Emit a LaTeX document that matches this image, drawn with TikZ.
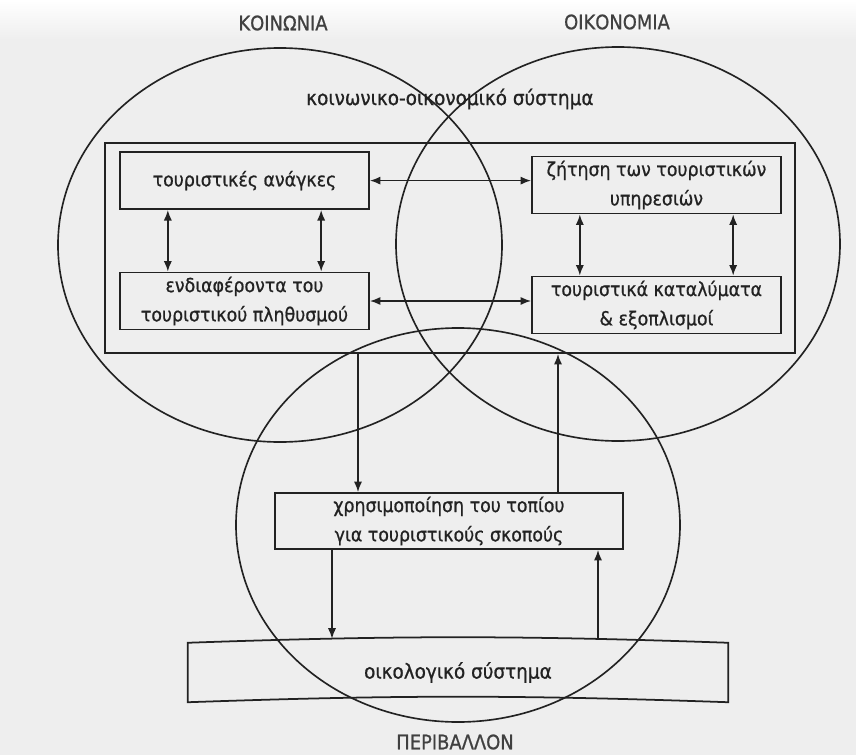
\documentclass[tikz,border=0pt]{standalone}
\usepackage{fontspec}
\setmainfont{DejaVu Sans Condensed}[FakeBold=0.8]
\usetikzlibrary{shapes.geometric, arrows.meta}
\definecolor{paper}{HTML}{EEEEEE}
\definecolor{ink}{HTML}{222222}
\tikzset{
  sphere/.style = {ellipse, draw=ink, line width=1.4pt, inner sep=0pt, minimum width=13.32cm, minimum height=11.82cm},
  sysname/.style = {text=black!75, font=\fontsize{17}{20}\selectfont},
  subname/.style = {text=ink, font=\fontsize{17.5}{22}\selectfont},
  bigframe/.style = {rectangle, draw=ink, line width=1.5pt, minimum width=20.7cm, minimum height=6.3cm},
  sysbox/.style = {rectangle, draw=ink, line width=1.5pt, align=center, inner sep=0pt, text=ink, font=\fontsize{16.5}{25}\selectfont, minimum width=7.47cm, minimum height=1.71cm},
  widebox/.style = {sysbox, minimum width=10.44cm, minimum height=1.68cm},
  dual/.style = {{Latex[length=9pt, width=7pt]}-{Latex[length=9pt, width=7pt]}, draw=ink, line width=1.4pt},
  flow/.style = {-{Latex[length=9pt, width=7pt]}, draw=ink, line width=1.4pt}
}

\begin{document}
\begin{tikzpicture}[x=0.03cm, y=-0.03cm]
    % page
    \fill[paper] (0,0) rectangle (856,755);
    \shade[top color=white, bottom color=paper] (0,0) rectangle (856,40);
    \useasboundingbox (0,0) rectangle (856,755);

    % the three systems
    \node[sphere] (soc) at (280,245) {};
    \node[sphere] (econ) at (618,244) {};
    \node[sphere] (env) at (458,525) {};
    \node[sysname] (socname) at (283,23) {ΚΟΙΝΩΝΙΑ};
    \node[sysname] (econname) at (617,22) {ΟΙΚΟΝΟΜΙΑ};
    \node[sysname] (envname) at (455,742) {ΠΕΡΙΒΑΛΛΟΝ};
    \node[subname] (socecon) at (450,99) {κοινωνικο-οικονομικό σύστημα};

    % socio-economic system
    \node[bigframe] (frame) at (450,248) {};
    \node[sysbox] (needs) at (244.5,180.6) {τουριστικές ανάγκες};
    \node[sysbox] (interest) at (244.5,301) {ενδιαφέροντα του\\τουριστικού πληθυσμού};
    \node[sysbox] (demand) at (656.5,185) {ζήτηση των τουριστικών\\υπηρεσιών};
    \node[sysbox] (lodging) at (656.5,305) {τουριστικά καταλύματα\\\& εξοπλισμοί};

    \draw[dual] (needs.east) -- (needs.east -| demand.west);
    \draw[dual] (interest.east) -- (interest.east -| lodging.west);
    \foreach \top/\bot in {needs/interest, demand/lodging}
      \foreach \s in {-2.3cm, 2.3cm}
        \draw[dual] ([xshift=\s]\top.south) -- ([xshift=\s]\bot.north);

    % landscape and ecosystem
    \node[widebox] (landuse) at (449,521) {χρησιμοποίηση του τοπίου\\για τουριστικούς σκοπούς};
    \node[subname, minimum width=16.2cm, minimum height=1.77cm] (ecosys) at (458,672.5) {οικολογικό σύστημα};
    \draw[ink, line width=1.5pt] (ecosys.north west) to[bend left=2] (ecosys.north east)
      -- (ecosys.south east) to[bend right=2] (ecosys.south west) -- cycle;

    \coordinate (d1) at ([xshift=-2.73cm]landuse.north);
    \coordinate (u1) at ([xshift=3.27cm]landuse.north);
    \coordinate (d2) at ([xshift=-3.51cm]landuse.south);
    \coordinate (u2) at ([xshift=4.47cm]landuse.south);
    \draw[flow] (d1 |- frame.south) -- (d1);
    \draw[flow] (u1) -- (u1 |- frame.south);
    \draw[flow, shorten >=0.12cm] (d2) -- (d2 |- ecosys.north);
    \draw[flow, shorten <=0.12cm] (u2 |- ecosys.north) -- (u2);
\end{tikzpicture}
\end{document}
